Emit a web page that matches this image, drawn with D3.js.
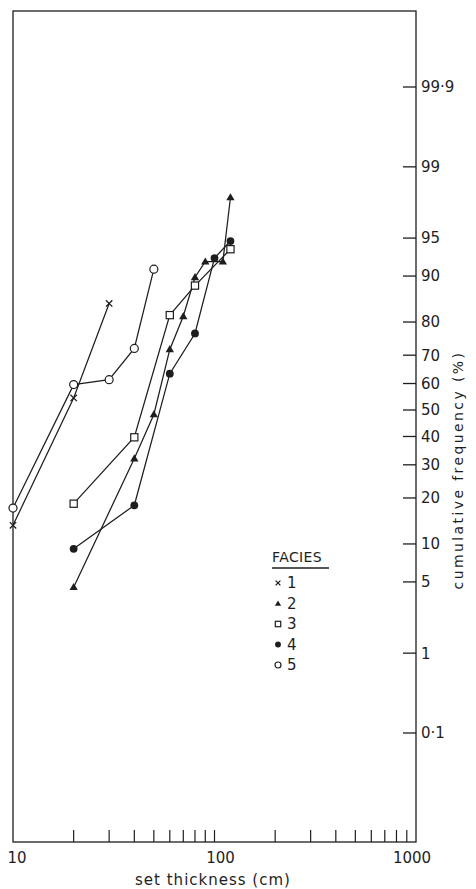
<!DOCTYPE html>
<html>
<head>
<meta charset="utf-8">
<script src="https://cdn.jsdelivr.net/npm/d3@7"></script>
<style>
  html, body { margin: 0; padding: 0; background: #fff; }
  svg { display: block; }
  text { font-family: "DejaVu Sans", sans-serif; fill: #1e1e1e; }
</style>
</head>
<body>
<svg id="chart" width="476" height="889"></svg>
<script>
// Set thickness (cm) and cumulative frequency (%) for each facies
const faciesNames = ["1", "2", "3", "4", "5"];
const thickness1 = [10, 20, 30];
const cumFreq1   = [13.5, 54.6, 84.6];
const thickness2 = [20, 40, 50, 60, 70, 80, 90, 110, 120];
const cumFreq2   = [4.5, 32.1, 48.3, 71.9, 81.5, 89.8, 92.2, 92.2, 97.9];
const thickness3 = [20, 40, 60, 80, 120];
const cumFreq3   = [18.5, 39.7, 81.8, 88.3, 93.8];
const thickness4 = [20, 40, 60, 80, 100, 120];
const cumFreq4   = [9.2, 18.1, 63.6, 76.8, 92.7, 94.7];
const thickness5 = [10, 20, 30, 40, 50];
const cumFreq5   = [17.4, 59.6, 61.4, 72.2, 91.1];

// Axis ticks
const xMajorTicks = [10, 100, 1000];
const xMinorTicks = [20, 30, 40, 50, 60, 70, 80, 90, 100, 200, 300, 400, 500, 600, 700, 800, 900];
const yTicks = [0.1, 1, 5, 10, 20, 30, 40, 50, 60, 70, 80, 90, 95, 99, 99.9];

const ink = "#1e1e1e";
const svg = d3.select("#chart");
const plot = { left: 13, right: 416, top: 11, bottom: 842 };

// Inverse normal CDF (Acklam's rational approximation) for the probability axis
function probit(p) {
  const a = [-3.969683028665376e+01, 2.209460984245205e+02, -2.759285104469687e+02, 1.383577518672690e+02, -3.066479806614716e+01, 2.506628277459239e+00];
  const b = [-5.447609879822406e+01, 1.615858368580409e+02, -1.556989798598866e+02, 6.680131188771972e+01, -1.328068155288572e+01];
  const c = [-7.784894002430293e-03, -3.223964580411365e-01, -2.400758277161838e+00, -2.549671071366094e+00, 4.374664141464968e+00, 2.938163982698783e+00];
  const d = [7.784695709041462e-03, 3.224671290700398e-01, 2.445134137142996e+00, 3.754408661907416e+00];
  const pl = 0.02425, ph = 1 - pl;
  let q, r;
  if (p < pl) {
    q = Math.sqrt(-2 * Math.log(p));
    return (((((c[0]*q+c[1])*q+c[2])*q+c[3])*q+c[4])*q+c[5]) / ((((d[0]*q+d[1])*q+d[2])*q+d[3])*q+1);
  } else if (p <= ph) {
    q = p - 0.5; r = q * q;
    return (((((a[0]*r+a[1])*r+a[2])*r+a[3])*r+a[4])*r+a[5])*q / (((((b[0]*r+b[1])*r+b[2])*r+b[3])*r+b[4])*r+1);
  } else {
    q = Math.sqrt(-2 * Math.log(1 - p));
    return -(((((c[0]*q+c[1])*q+c[2])*q+c[3])*q+c[4])*q+c[5]) / ((((d[0]*q+d[1])*q+d[2])*q+d[3])*q+1);
  }
}

const x = d3.scaleLog().domain([10, 1000]).range([plot.left, plot.right]);
const zScale = d3.scaleLinear().domain([probit(0.999), probit(0.001)]).range([87, 733]);
const y = pct => zScale(probit(pct / 100));

// Frame
svg.append("rect")
  .attr("x", plot.left).attr("y", plot.top)
  .attr("width", plot.right - plot.left).attr("height", plot.bottom - plot.top)
  .attr("fill", "none").attr("stroke", ink).attr("stroke-width", 1.3);

// Bottom axis: inward ticks, labels at decades
const xAxis = svg.append("g").attr("transform", `translate(0,${plot.bottom})`);
xAxis.selectAll("line.tick").data(xMinorTicks).join("line")
  .attr("class", "tick")
  .attr("x1", d => x(d)).attr("x2", d => x(d))
  .attr("y1", 0).attr("y2", -12)
  .attr("stroke", ink).attr("stroke-width", 1.2);
xAxis.selectAll("text").data(xMajorTicks).join("text")
  .attr("x", (d, i) => x(d) + [4, 6, -4][i]).attr("y", 21)
  .attr("text-anchor", "middle")
  .attr("font-size", 15)
  .text(d => d);
svg.append("text")
  .attr("x", 213).attr("y", 885)
  .attr("text-anchor", "middle")
  .attr("font-size", 15)
  .attr("letter-spacing", 1)
  .text("set  thickness (cm)");

// Right probability axis
const yAxis = svg.append("g").attr("transform", `translate(${plot.right},0)`);
yAxis.selectAll("line").data(yTicks).join("line")
  .attr("x1", -13).attr("x2", 0)
  .attr("y1", d => y(d)).attr("y2", d => y(d))
  .attr("stroke", ink).attr("stroke-width", 1.3);
yAxis.selectAll("text").data(yTicks).join("text")
  .attr("x", 5).attr("y", d => y(d))
  .attr("dy", "0.36em")
  .attr("font-size", 15)
  .text(d => String(d).replace(".", "·"));
svg.append("text")
  .attr("transform", "translate(463,470) rotate(-90)")
  .attr("text-anchor", "middle")
  .attr("font-size", 14)
  .attr("letter-spacing", 2.4)
  .text("cumulative frequency (%)");

// Series lines and markers
const series = [
  { name: faciesNames[0], xs: thickness1, ys: cumFreq1, shape: "cross" },
  { name: faciesNames[1], xs: thickness2, ys: cumFreq2, shape: "triangle" },
  { name: faciesNames[2], xs: thickness3, ys: cumFreq3, shape: "square" },
  { name: faciesNames[3], xs: thickness4, ys: cumFreq4, shape: "dot" },
  { name: faciesNames[4], xs: thickness5, ys: cumFreq5, shape: "ring" }
];

const line = d3.line().x(d => x(d[0])).y(d => y(d[1]));

function drawMarker(g, shape, cx, cy, k) {
  if (shape === "cross") {
    const s = 3.2 * k;
    g.append("path").attr("d", `M${cx - s},${cy - s}L${cx + s},${cy + s}M${cx - s},${cy + s}L${cx + s},${cy - s}`)
      .attr("stroke", ink).attr("stroke-width", 1.3);
  } else if (shape === "triangle") {
    g.append("path").attr("transform", `translate(${cx},${cy + 0.5})`)
      .attr("d", d3.symbol(d3.symbolTriangle, 30 * k * k)())
      .attr("fill", ink);
  } else if (shape === "square") {
    const s = 3.6 * k;
    g.append("rect").attr("x", cx - s).attr("y", cy - s).attr("width", 2 * s).attr("height", 2 * s)
      .attr("fill", "#fff").attr("stroke", ink).attr("stroke-width", 1.2);
  } else if (shape === "dot") {
    g.append("circle").attr("cx", cx).attr("cy", cy).attr("r", 3.9 * k).attr("fill", ink);
  } else {
    g.append("circle").attr("cx", cx).attr("cy", cy).attr("r", 4 * k)
      .attr("fill", "#fff").attr("stroke", ink).attr("stroke-width", 1.2);
  }
}

const gLines = svg.append("g");
series.forEach(s => {
  gLines.append("path")
    .datum(s.xs.map((v, i) => [v, s.ys[i]]))
    .attr("d", line)
    .attr("fill", "none").attr("stroke", ink).attr("stroke-width", 1.25);
});
const gMarks = svg.append("g");
series.forEach(s => {
  s.xs.forEach((v, i) => drawMarker(gMarks, s.shape, x(v), y(s.ys[i]), 1));
});

// Legend
const legend = svg.append("g").attr("transform", "translate(272,0)");
legend.append("text").attr("x", 0).attr("y", 562).attr("font-size", 14)
  .attr("letter-spacing", 0.4).text("FACIES");
legend.append("line").attr("x1", 0).attr("x2", 57).attr("y1", 568).attr("y2", 568)
  .attr("stroke", ink).attr("stroke-width", 1.3);
series.forEach((s, i) => {
  const ly = 583 + i * 20.5;
  drawMarker(legend, s.shape, 6, ly, 0.75);
  legend.append("text").attr("x", 15).attr("y", ly).attr("dy", "0.36em")
    .attr("font-size", 15).text(s.name);
});
</script>
</body>
</html>
